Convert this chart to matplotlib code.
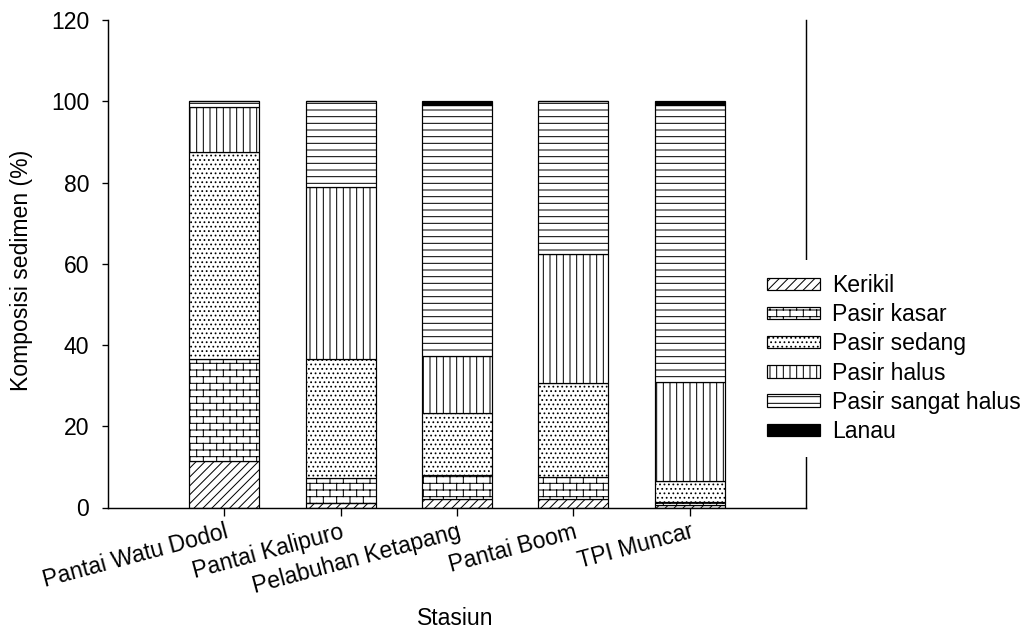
import warnings
import numpy as np
import matplotlib
matplotlib.use("Agg")
import matplotlib.pyplot as plt
from matplotlib import hatch as mhatch
from matplotlib.path import Path

warnings.filterwarnings("ignore")

# data (persen komposisi sedimen)
stasiun = ["Pantai Watu Dodol", "Pantai Kalipuro", "Pelabuhan Ketapang",
           "Pantai Boom", "TPI Muncar"]
kerikil = [11.4, 1.2, 2.1, 2.1, 0.5]
pasir_kasar = [25.1, 6.1, 5.9, 5.5, 0.8]
pasir_sedang = [50.9, 29.2, 15.3, 23.0, 5.3]
pasir_halus = [11.1, 42.5, 14.0, 31.7, 24.4]
pasir_sangat_halus = [1.5, 21.0, 61.8, 37.7, 68.0]
lanau = [0.0, 0.0, 0.9, 0.0, 1.0]
labels = ["Kerikil", "Pasir kasar", "Pasir sedang", "Pasir halus",
          "Pasir sangat halus", "Lanau"]


class BrickHatch(mhatch.HatchPatternBase):
    """pola bata untuk pasir kasar, pakai huruf 'b'"""
    def __init__(self, hatch, density):
        self.rows = 12 if "b" in hatch else 0
        self.cols = 6
        if self.rows:
            self.num_vertices = self.rows * 2 + (self.rows + 1) * self.cols * 2
        else:
            self.num_vertices = 0

    def set_vertices_and_codes(self, vertices, codes):
        h = 1.0 / self.rows
        w = 1.0 / self.cols
        segs = []
        for r in range(self.rows):
            y = (r + 0.5) * h
            segs.append(((0, y), (1, y)))
            off = 0.75 * w if r % 2 else 0.25 * w
            y2 = min(y + h, 1.0)
            for c in range(self.cols):
                segs.append(((c * w + off, y), (c * w + off, y2)))
        # sisa bawah tile (lanjutan baris terakhir)
        off = 0.75 * w
        for c in range(self.cols):
            segs.append(((c * w + off, 0.0), (c * w + off, 0.5 * h)))
        for i, (a, b) in enumerate(segs):
            vertices[2 * i] = a
            vertices[2 * i + 1] = b
            codes[2 * i] = Path.MOVETO
            codes[2 * i + 1] = Path.LINETO


mhatch._hatch_types.append(BrickHatch)

plt.rcParams["font.family"] = ["Liberation Sans", "DejaVu Sans"]
plt.rcParams["hatch.linewidth"] = 0.9
fs = 20.7

fig = plt.figure(figsize=(1025 / 80, 631 / 80), dpi=80)
ax = fig.add_axes([108 / 1025, 1 - 507.5 / 631, 698 / 1025, 487.5 / 631])

series = [kerikil, pasir_kasar, pasir_sedang, pasir_halus,
          pasir_sangat_halus, lanau]
hatches = ["///", "b", "...", "||", "--", None]

x = np.arange(len(stasiun))
bottom = np.zeros(len(stasiun))
for vals, hp, lab in zip(series, hatches, labels):
    vals = np.array(vals)
    face = "black" if lab == "Lanau" else "white"
    ax.bar(x, vals, 0.6, bottom=bottom, color=face, edgecolor="black",
           hatch=hp, linewidth=1.1, label=lab)
    bottom += vals

ax.set_xlim(-1, 5)
ax.set_ylim(0, 120)
ax.set_yticks(range(0, 121, 20))
ax.set_xticks(x)
ax.set_xticklabels(stasiun, rotation=15, ha="right", va="top",
                   rotation_mode="anchor")
ax.spines["top"].set_visible(False)
for s in ["left", "bottom", "right"]:
    ax.spines[s].set_linewidth(1.3)
ax.tick_params(axis="y", direction="out", length=5.4, width=1.2, pad=11.4,
               labelsize=fs)
ax.tick_params(axis="x", direction="out", length=7, width=1.2, pad=4.5,
               labelsize=fs)

ax.set_ylabel("Komposisi sedimen (%)", fontsize=fs)
ax.yaxis.set_label_coords(-0.107, 0.486)
ax.set_xlabel("Stasiun", fontsize=fs)
ax.xaxis.set_label_coords(0.498, -0.205)

leg = ax.legend(loc="center left", bbox_to_anchor=(753 / 1025, 1 - 358.5 / 631),
                bbox_transform=fig.transFigure, fontsize=fs, frameon=True,
                fancybox=False, edgecolor="none", facecolor="white",
                framealpha=1, handlelength=2.3, handleheight=0.45,
                handletextpad=0.55, labelspacing=0.27, borderpad=0.6,
                borderaxespad=0)
leg.set_zorder(10)

fig.savefig("out.png", dpi=80)
